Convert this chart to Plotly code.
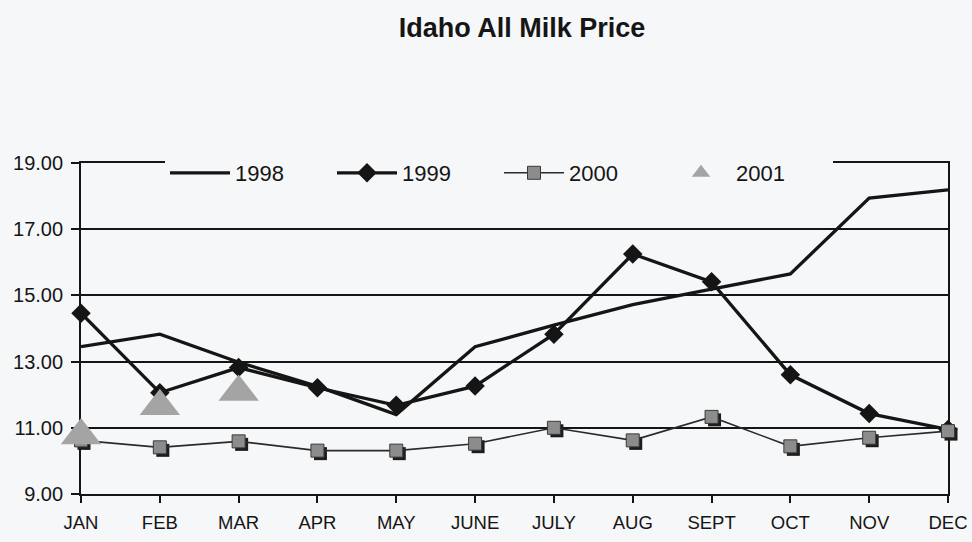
import plotly.graph_objects as go

# Monthly all-milk price, $ per cwt
months = ["JAN", "FEB", "MAR", "APR", "MAY", "JUNE", "JULY", "AUG", "SEPT", "OCT", "NOV", "DEC"]
price_1998 = [13.45, 13.83, 12.98, 12.25, 11.40, 13.45, 14.10, 14.72, 15.19, 15.65, 17.94, 18.19]
price_1999 = [14.46, 12.06, 12.82, 12.21, 11.68, 12.26, 13.83, 16.25, 15.41, 12.60, 11.43, 10.95]
price_2000 = [10.62, 10.41, 10.59, 10.31, 10.31, 10.52, 11.00, 10.62, 11.33, 10.44, 10.70, 10.90]
price_2001 = [10.77, 11.65, 12.08]
y_ticks = [9, 11, 13, 15, 17, 19]

FONT = "Liberation Sans, Arial, Helvetica, sans-serif"
BG = "#f6f7f8"
INK = "#151515"

# plot area geometry (px) and the small offset used for the square-marker drop shadow
W, H = 972, 542
ML, MR, MT, MB = 81, 21, 163, 45
PW, PH = W - ML - MR, H - MT - MB
SH = 3
main_x = [0, (PW - SH) / PW]
main_y = [SH / PH, 1]
shadow_x = [SH / PW, 1]
shadow_y = [0, (PH - SH) / PH]

fig = go.Figure()

fig.add_trace(go.Scatter(
    x=months, y=price_1998, name="1998", mode="lines",
    line=dict(color=INK, width=3.3),
))
fig.add_trace(go.Scatter(
    x=months, y=price_1999, name="1999", mode="lines+markers", cliponaxis=False,
    line=dict(color=INK, width=3.3),
    marker=dict(symbol="diamond", size=15, color=INK),
))
# drop shadow under the 2000 squares (drawn on an offset copy of the axes)
fig.add_trace(go.Scatter(
    x=months, y=price_2000, name="2000", mode="markers", showlegend=False,
    hoverinfo="skip", xaxis="x2", yaxis="y2", cliponaxis=False,
    marker=dict(symbol="square", size=13, color="#1c1c1c"),
))
fig.add_trace(go.Scatter(
    x=months, y=price_2000, name="2000", mode="lines+markers",
    xaxis="x3", yaxis="y3", cliponaxis=False,
    line=dict(color="#2a2a2a", width=1.6),
    marker=dict(symbol="square", size=13, color="#8c8c8c",
                line=dict(color="#3a3a3a", width=1)),
))
fig.add_trace(go.Scatter(
    x=months[:len(price_2001)], y=price_2001, name="2001", mode="markers",
    xaxis="x3", yaxis="y3", cliponaxis=False,
    marker=dict(symbol="triangle-up", size=35, color="#a4a4a4"),
))

hidden_x = dict(type="category", categoryarray=months, range=[0, 11], visible=False)
hidden_y = dict(range=[9, 19], visible=False)

fig.update_layout(
    width=W, height=H,
    margin=dict(l=ML, r=MR, t=MT, b=MB),
    paper_bgcolor=BG, plot_bgcolor="rgba(0,0,0,0)",
    font=dict(family=FONT, size=20, color=INK),
    title=dict(
        text="<b>Idaho All Milk Price</b>",
        font=dict(family=FONT, size=27, color=INK),
        x=522 / W, xanchor="center", y=1 - 28 / H, yanchor="middle",
    ),
    showlegend=True,
    legend=dict(
        orientation="h", x=(165 - ML) / PW, xanchor="left",
        y=(PH + MT - 152) / PH, yanchor="top",
        bgcolor=BG, borderwidth=0,
        font=dict(family=FONT, size=22, color=INK),
        itemwidth=60, entrywidthmode="pixels", entrywidth=92,
        traceorder="normal",
    ),
    xaxis=dict(
        type="category", categoryarray=months, range=[0, 11], domain=main_x,
        showgrid=False, showline=True, linecolor=INK, linewidth=1.8, mirror=True,
        ticks="outside", ticklen=7, tickwidth=1.5, tickcolor=INK,
        tickfont=dict(family=FONT, size=18.5, color=INK),
        ticklabelstandoff=4, automargin=False, zeroline=False,
    ),
    yaxis=dict(
        range=[9, 19], domain=main_y, tickvals=y_ticks, tickformat=".2f",
        showgrid=True, gridcolor=INK, gridwidth=1.6,
        showline=True, linecolor=INK, linewidth=1.8, mirror=True,
        ticks="outside", ticklen=8, tickwidth=1.6, tickcolor=INK,
        tickfont=dict(family=FONT, size=20, color=INK),
        ticklabelstandoff=4, automargin=False, zeroline=False,
    ),
    xaxis2=dict(hidden_x, domain=shadow_x, anchor="y2"),
    yaxis2=dict(hidden_y, domain=shadow_y, anchor="x2"),
    xaxis3=dict(hidden_x, domain=main_x, anchor="y3"),
    yaxis3=dict(hidden_y, domain=main_y, anchor="x3"),
)

fig.write_html("out.html")
